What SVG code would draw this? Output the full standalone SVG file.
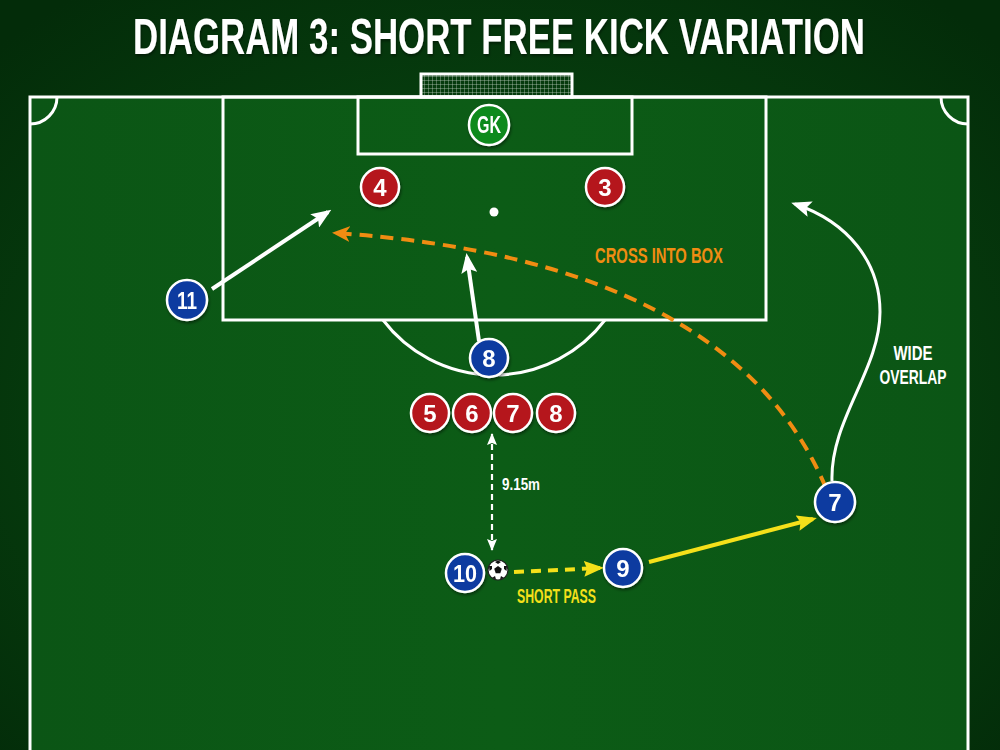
<svg xmlns="http://www.w3.org/2000/svg" width="1000" height="750" viewBox="0 0 1000 750">
  <defs>
    <radialGradient id="bg" cx="50%" cy="55%" r="70%">
      <stop offset="0" stop-color="#0a5214"/>
      <stop offset="1" stop-color="#032c09"/>
    </radialGradient>
    <linearGradient id="pitch" x1="0" y1="0" x2="1" y2="0">
      <stop offset="0" stop-color="#0b5515"/>
      <stop offset="0.5" stop-color="#0c5c16"/>
      <stop offset="1" stop-color="#0b5515"/>
    </linearGradient>
    <filter id="sh" x="-30%" y="-30%" width="160%" height="160%">
      <feDropShadow dx="1" dy="2" stdDeviation="1.5" flood-color="#000" flood-opacity="0.45"/>
    </filter>
    <pattern id="net" width="4" height="4" patternUnits="userSpaceOnUse">
      <path d="M0,0 H4 M0,0 V4" stroke="#ffffff" stroke-width="0.7" opacity="0.8"/>
    </pattern>
    <marker id="aw" viewBox="0 0 20 16" refX="16" refY="8" markerWidth="20" markerHeight="16" markerUnits="userSpaceOnUse" orient="auto">
      <path d="M0,0 L20,8 L0,16 L4,8 z" fill="#ffffff"/>
    </marker>
    <marker id="awSmall" viewBox="0 0 12 10" refX="11" refY="5" markerWidth="12" markerHeight="10" markerUnits="userSpaceOnUse" orient="auto-start-reverse">
      <path d="M0,0 L12,5 L0,10 L2,5 z" fill="#ffffff"/>
    </marker>
    <marker id="ao" viewBox="0 0 18 16" refX="14" refY="8" markerWidth="18" markerHeight="16" markerUnits="userSpaceOnUse" orient="auto">
      <path d="M0,0 L18,8 L0,16 L5,8 z" fill="#f08c12"/>
    </marker>
    <marker id="ay" viewBox="0 0 20 16" refX="16" refY="8" markerWidth="20" markerHeight="16" markerUnits="userSpaceOnUse" orient="auto">
      <path d="M0,0 L20,8 L0,16 L3,8 z" fill="#f4e01a"/>
    </marker>
    <style>
      .line { fill: none; stroke: #ffffff; stroke-width: 3; }
      .red { fill: #b5121b; stroke: #ffffff; stroke-width: 2.5; }
      .blue { fill: #0b3aa0; stroke: #ffffff; stroke-width: 2.5; }
      .gk { fill: #0a8a1c; stroke: #ffffff; stroke-width: 2.5; }
      .num { font-family: "Liberation Sans", Arial, sans-serif; font-weight: bold; font-size: 24px; fill: #ffffff; text-anchor: middle; }
      .lbl { font-family: "Liberation Sans", Arial, sans-serif; font-weight: bold; }
    </style>
  </defs>

  <!-- background -->
  <rect x="0" y="0" width="1000" height="750" fill="url(#bg)"/>
  <rect x="30" y="97" width="938" height="660" fill="url(#pitch)"/>

  <!-- title -->
  <g transform="translate(499,54) scale(0.75,1)" filter="url(#sh)">
    <text x="0" y="0" text-anchor="middle" class="lbl" font-size="50" fill="#ffffff" textLength="976" lengthAdjust="spacingAndGlyphs">DIAGRAM 3: SHORT FREE KICK VARIATION</text>
  </g>

  <!-- pitch markings -->
  <g id="pitch-lines">
    <rect x="421" y="74" width="151" height="23" fill="url(#net)" stroke="#ffffff" stroke-width="3"/>
    <path class="line" d="M30,760 V97 H968 V760"/>
    <rect class="line" x="223" y="97" width="543" height="223"/>
    <rect class="line" x="358" y="97" width="274" height="57"/>
    <circle cx="494" cy="212" r="4.5" fill="#ffffff"/>
    <path class="line" d="M383,320 A139.5,139.5 0 0 0 605,320"/>
    <path class="line" d="M30,124 A27,27 0 0 0 57,97"/>
    <path class="line" d="M941,97 A27,27 0 0 0 968,124"/>
  </g>

  <!-- connectors -->
  <g id="connectors">
    <path d="M212,289 L328,212" stroke="#ffffff" stroke-width="4" fill="none" marker-end="url(#aw)"/>
    <path d="M479,341 L467,257" stroke="#ffffff" stroke-width="4" fill="none" marker-end="url(#aw)"/>
    <path d="M826,488 Q730,260 336,233" stroke="#f08c12" stroke-width="4" fill="none" stroke-dasharray="13,8" marker-end="url(#ao)"/>
    <path d="M832,481 C830,420 880,370 880,312 C880,262 848,222 795,204" stroke="#ffffff" stroke-width="3" fill="none" marker-end="url(#aw)"/>
    <path d="M649,562 L813,519" stroke="#f4e01a" stroke-width="4" fill="none" marker-end="url(#ay)"/>
    <path d="M514,572 L600,568" stroke="#f4e01a" stroke-width="4" fill="none" stroke-dasharray="10,7" marker-end="url(#ay)"/>
    <path d="M492,434 L492,550" stroke="#ffffff" stroke-width="2.2" fill="none" stroke-dasharray="6,4" marker-start="url(#awSmall)" marker-end="url(#awSmall)"/>
  </g>

  <!-- labels -->
  <g id="labels">
    <text x="659" y="263" text-anchor="middle" class="lbl" font-size="22" fill="#f08c12" textLength="128" lengthAdjust="spacingAndGlyphs">CROSS INTO BOX</text>
    <text x="913" y="360" text-anchor="middle" class="lbl" font-size="20" fill="#ffffff" textLength="39" lengthAdjust="spacingAndGlyphs">WIDE</text>
    <text x="913" y="384" text-anchor="middle" class="lbl" font-size="20" fill="#ffffff" textLength="67" lengthAdjust="spacingAndGlyphs">OVERLAP</text>
    <text x="502" y="490" class="lbl" font-size="17" fill="#ffffff" textLength="38" lengthAdjust="spacingAndGlyphs">9.15m</text>
    <text x="517" y="603" class="lbl" font-size="20" fill="#f4e01a" textLength="79" lengthAdjust="spacingAndGlyphs">SHORT PASS</text>
  </g>

  <!-- players -->
  <g id="gk" filter="url(#sh)">
    <circle class="gk" cx="489" cy="125" r="20"/>
    <text class="num" x="489" y="133" font-size="22" textLength="24" lengthAdjust="spacingAndGlyphs">GK</text>
  </g>
  <g id="def4" filter="url(#sh)">
    <circle class="red" cx="380" cy="187" r="19"/>
    <text class="num" x="380" y="196">4</text>
  </g>
  <g id="def3" filter="url(#sh)">
    <circle class="red" cx="605" cy="187" r="19"/>
    <text class="num" x="605" y="196">3</text>
  </g>
  <g id="wall5" filter="url(#sh)">
    <circle class="red" cx="430" cy="413" r="19"/>
    <text class="num" x="430" y="422">5</text>
  </g>
  <g id="wall6" filter="url(#sh)">
    <circle class="red" cx="472" cy="413" r="19"/>
    <text class="num" x="472" y="422">6</text>
  </g>
  <g id="wall7" filter="url(#sh)">
    <circle class="red" cx="513" cy="413" r="19"/>
    <text class="num" x="513" y="422">7</text>
  </g>
  <g id="wall8" filter="url(#sh)">
    <circle class="red" cx="556" cy="413" r="19"/>
    <text class="num" x="556" y="422">8</text>
  </g>
  <g id="att11" filter="url(#sh)">
    <circle class="blue" cx="187" cy="300" r="20"/>
    <text class="num" x="187" y="309" textLength="20" lengthAdjust="spacingAndGlyphs">11</text>
  </g>
  <g id="att8" filter="url(#sh)">
    <circle class="blue" cx="489" cy="358" r="19"/>
    <text class="num" x="489" y="367">8</text>
  </g>
  <g id="att10" filter="url(#sh)">
    <circle class="blue" cx="465" cy="573" r="19"/>
    <text class="num" x="465" y="582" textLength="24" lengthAdjust="spacingAndGlyphs">10</text>
  </g>
  <g id="att9" filter="url(#sh)">
    <circle class="blue" cx="623" cy="568" r="19"/>
    <text class="num" x="623" y="577">9</text>
  </g>
  <g id="att7" filter="url(#sh)">
    <circle class="blue" cx="835" cy="502" r="20"/>
    <text class="num" x="835" y="511">7</text>
  </g>
  <g id="ball">
    <circle cx="498" cy="570" r="10" fill="#ffffff" stroke="#222222" stroke-width="1.2"/>
    <path d="M498,566 L501.8,568.8 L500.3,573.2 L495.7,573.2 L494.2,568.8 z" fill="#111111"/>
    <path d="M498,560.5 L501,562 L498,564 L495,562 z" fill="#111111"/>
    <path d="M507,566 L506.5,571 L504,569 L504,566 z" fill="#111111"/>
    <path d="M489,566 L489.5,571 L492,569 L492,566 z" fill="#111111"/>
    <path d="M492,578 L495,576 L496,579.5 z" fill="#111111"/>
    <path d="M504,578 L501,576 L500,579.5 z" fill="#111111"/>
  </g>
</svg>
